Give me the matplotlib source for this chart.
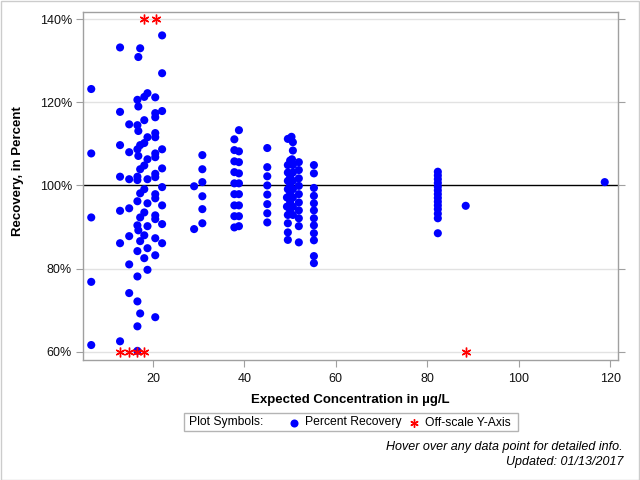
import matplotlib

matplotlib.use("Agg")
import matplotlib.pyplot as plt
from matplotlib.lines import Line2D
from matplotlib.patches import Rectangle
from matplotlib.ticker import FuncFormatter

plt.rcParams["font.family"] = ["Liberation Sans", "DejaVu Sans"]

# Expected concentration levels (ug/L) and the percent recoveries measured at each
conc_levels = [6.5, 12.8, 14.8, 16.6, 16.8, 17.2, 18.1, 18.8, 20.5, 22.0,
               29.0, 30.8, 37.8, 38.8, 45.0, 49.3, 49.5, 50.0, 50.3, 50.4,
               50.6, 51.9, 55.2, 82.3, 88.4, 118.8]
recovery_by_level = [
    [123.2, 107.7, 92.3, 76.8, 61.6],
    [133.2, 117.7, 109.7, 102.1, 93.9, 86.1, 62.5],
    [114.7, 108.0, 101.5, 94.5, 87.8, 81.0, 74.1],
    [120.6, 114.5, 108.7, 102.1, 101.3, 96.2, 90.4, 84.2, 78.1, 72.1, 66.1, 60.2],
    [130.9, 119.0, 113.1, 107.1, 89.2],
    [133.0, 109.7, 103.9, 98.1, 92.3, 86.6, 69.2],
    [121.3, 115.7, 110.2, 104.8, 99.1, 93.5, 88.0, 82.5],
    [122.2, 111.6, 106.3, 101.5, 95.7, 90.2, 84.9, 79.7],
    [121.2, 117.4, 116.4, 112.6, 111.6, 107.7, 106.8, 102.8, 102.0, 97.9,
     96.9, 92.8, 91.9, 87.3, 83.2, 68.3],
    [136.1, 127.0, 117.9, 108.7, 104.1, 99.6, 95.2, 90.7, 86.1],
    [99.8, 89.5],
    [107.3, 103.9, 100.8, 97.4, 94.3, 90.9],
    [111.1, 108.5, 105.8, 103.2, 100.5, 97.9, 95.2, 92.6, 89.9],
    [113.3, 108.2, 105.6, 102.9, 100.5, 97.9, 95.2, 92.6, 90.2],
    [109.0, 104.4, 102.2, 100.0, 97.8, 95.5, 93.3, 91.1],
    [97.1, 94.9],
    [111.2, 104.9, 103.1, 101.1, 99.1, 92.9, 90.9, 88.7, 86.9],
    [106.0, 102.0, 100.0, 98.0, 96.0, 94.0],
    [111.7],
    [106.3],
    [110.4, 108.4, 104.9, 103.1, 101.1, 99.1, 97.1, 94.9, 92.9],
    [105.6, 103.7, 101.7, 99.9, 97.9, 95.9, 94.0, 92.1, 90.2, 86.3],
    [104.9, 102.9, 99.4, 97.5, 95.7, 94.0, 92.1, 90.4, 88.5, 86.8, 83.0, 81.3],
    [103.3, 102.4, 101.5, 100.6, 99.7, 98.8, 97.9, 97.0, 96.1, 95.2, 94.3,
     93.2, 92.1, 88.5],
    [95.1],
    [100.8],
]

# Off-scale results, drawn at the axis limit they exceed
offscale_conc = [18.1, 20.6, 12.8, 14.8, 16.6, 18.1, 88.4]
offscale_pos = [140, 140, 60, 60, 60, 60, 60]

x_ticks = [20, 40, 60, 80, 100, 120]
y_ticks = [60, 80, 100, 120, 140]

xs = [c for c, vals in zip(conc_levels, recovery_by_level) for _ in vals]
ys = [v for vals in recovery_by_level for v in vals]

blue = "#0000FF"
red = "#FF0000"
axis_gray = "#a0a0a0"
star = (6, 2, 0)

fig = plt.figure(figsize=(6.4, 4.8), dpi=100)
ax = fig.add_axes([0.1297, 0.25, 0.8359, 0.7256])

for y in y_ticks:
    if y != 100:
        ax.axhline(y, color="#e2e2e2", lw=1, zorder=0)
ax.axhline(100, color="black", lw=1, zorder=1)

ax.scatter(xs, ys, s=34, color=blue, edgecolors="none", zorder=3)
ax.plot(offscale_conc, offscale_pos, linestyle="none", marker=star,
        markersize=7, markeredgecolor=red, markeredgewidth=1, zorder=4,
        clip_on=False)

ax.set_xlim(4.7, 121.7)
ax.set_ylim(58.0, 141.8)
ax.set_xticks(x_ticks)
ax.set_yticks(y_ticks)
ax.yaxis.set_major_formatter(FuncFormatter(lambda v, p: f"{v:.0f}%"))

for side in ["left", "right", "top", "bottom"]:
    ax.spines[side].set_color(axis_gray)
    ax.spines[side].set_linewidth(1)
ax.tick_params(axis="both", direction="out", length=5, color=axis_gray,
               labelsize=9, labelcolor="#111111")
ax.tick_params(axis="y", right=True, pad=3)
ax.tick_params(axis="x", pad=4)

fig.text(350 / 640, 1 - 400 / 480, "Expected Concentration in µg/L",
         ha="center", va="center", fontsize=9.5, fontweight="bold")
fig.text(18.3 / 640, 1 - 171.5 / 480, "Recovery, in Percent", rotation=90,
         ha="center", va="center", fontsize=9.5, fontweight="bold")

# symbol key box
fig.add_artist(Rectangle((184 / 640, 1 - 431 / 480), 333.7 / 640, 17.7 / 480,
                         transform=fig.transFigure, facecolor="white",
                         edgecolor="#b4b4b4", lw=1))
ky = 1 - 422.5 / 480
fig.text(189 / 640, ky, "Plot Symbols:", ha="left", va="center", fontsize=8.7)
fig.add_artist(Line2D([294 / 640], [ky], transform=fig.transFigure,
                      linestyle="none", marker="o", markersize=5.8,
                      markerfacecolor=blue, markeredgecolor="none"))
fig.text(305 / 640, ky, "Percent Recovery", ha="left", va="center", fontsize=8.7)
fig.add_artist(Line2D([414 / 640], [ky], transform=fig.transFigure,
                      linestyle="none", marker=star, markersize=6,
                      markeredgecolor=red, markeredgewidth=1))
fig.text(425 / 640, ky, "Off-scale Y-Axis", ha="left", va="center", fontsize=8.7)

fig.text(623 / 640, 1 - 447.3 / 480, "Hover over any data point for detailed info.",
         ha="right", va="center", fontsize=9, style="italic")
fig.text(623 / 640, 1 - 461.7 / 480, "Updated: 01/13/2017",
         ha="right", va="center", fontsize=9, style="italic")

# thin frame around the whole image
fig.add_artist(Rectangle((0.5 / 640, 0.5 / 480), 638.5 / 640, 478.5 / 480,
                         transform=fig.transFigure, fill=False,
                         edgecolor="#cccccc", lw=1))

fig.savefig("out.png", dpi=100)
